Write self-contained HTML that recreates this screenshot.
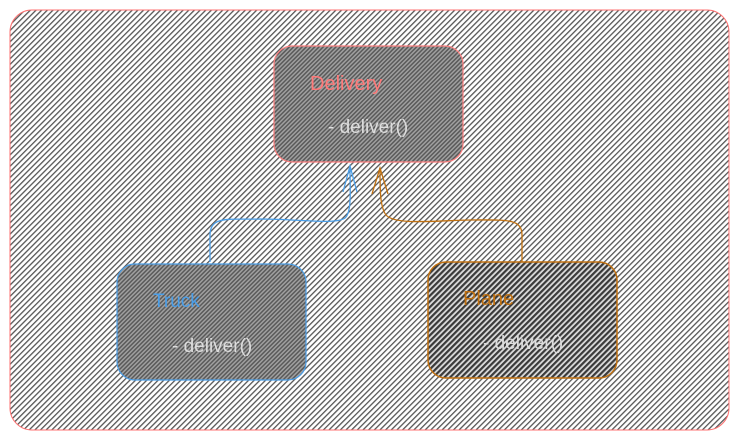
<!DOCTYPE html>
<html><head><style>
html,body{margin:0;padding:0;background:#fff;}
svg{display:block;}
text{font-family:"Comic Sans MS","Liberation Sans",sans-serif;}
</style></head><body>
<svg width="739" height="440" viewBox="0 0 739 440" xmlns="http://www.w3.org/2000/svg">
<defs>
<pattern id="bg" width="4" height="4" patternUnits="userSpaceOnUse" patternTransform="rotate(-45)">
<rect width="4" height="4" fill="#fff"/><rect width="4" height="1.3" fill="#555"/></pattern>
<pattern id="box" width="3" height="3" patternUnits="userSpaceOnUse" patternTransform="rotate(-45)">
<rect width="3" height="3" fill="#a0a0a0"/><rect width="3" height="1.5" fill="#5a5a5a"/></pattern>
<pattern id="pl" width="4" height="4" patternUnits="userSpaceOnUse" patternTransform="rotate(-45)">
<rect width="4" height="4" fill="#ddd"/><rect width="4" height="2.2" fill="#3a3a3a"/></pattern>
</defs>
<rect width="739" height="440" fill="#fff"/>
<rect x="10" y="10" width="719" height="420" rx="22" fill="url(#bg)" stroke="#ff7070" stroke-width="1"/>
<rect x="274" y="46" width="189" height="116" rx="18" fill="url(#box)" stroke="#ff8080" stroke-width="1.2"/>
<rect x="117" y="264" width="189" height="116" rx="18" fill="url(#box)" stroke="#4a9ee8" stroke-width="1.2"/>
<rect x="428" y="262" width="189" height="116" rx="18" fill="url(#pl)" stroke="#c07010" stroke-width="1.5"/>
<path d="M210 262 L210 235 C210 215,230 220,260 219 C300 219,335 225,345 218 C352 212,350 190,350 168" fill="none" stroke="#4a9ee8" stroke-width="1.3"/>
<path d="M343 192 L350 166 L357 192" fill="none" stroke="#4a9ee8" stroke-width="1.3"/>
<path d="M522 262 L522 235 C522 218,505 220,470 220 C430 221,395 225,386 215 C380 207,380 190,380 168" fill="none" stroke="#c07010" stroke-width="1.3"/>
<path d="M372 194 L380 168 L388 194" fill="none" stroke="#c07010" stroke-width="1.3"/>
<text x="310" y="90" font-size="20" fill="#ff7a7a">Delivery</text>
<text x="328" y="133" font-size="19" fill="#ddd">- deliver()</text>
<text x="153" y="307" font-size="19" fill="#4a9ee8">Truck</text>
<text x="172" y="352" font-size="19" fill="#ddd">- deliver()</text>
<text x="463" y="305" font-size="20" fill="#c07010">Plane</text>
<text x="483" y="349" font-size="19" fill="#ddd">- deliver()</text>
</svg>
</body></html>
